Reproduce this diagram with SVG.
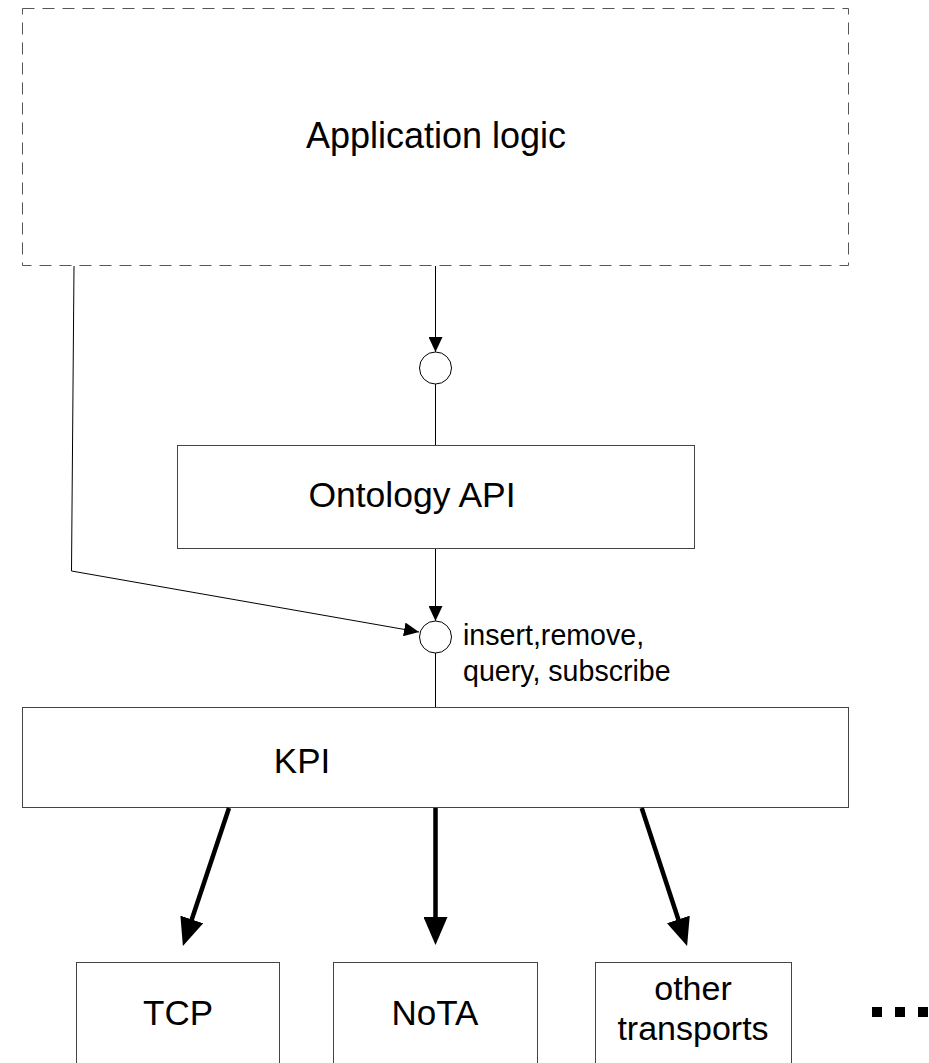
<svg xmlns="http://www.w3.org/2000/svg" width="929" height="1063" viewBox="0 0 929 1063">
  <style>
    .box { fill: #ffffff; stroke: #444444; stroke-width: 1; }
    .dash { fill: #ffffff; stroke: #555555; stroke-width: 1; stroke-dasharray: 12 8; }
    .lbl { font-family: "Liberation Sans", Arial, sans-serif; fill: #000000; }
    .thin { fill: none; stroke: #000000; stroke-width: 1; }
    .bold { fill: none; stroke: #000000; stroke-width: 4.5; }
    .port { fill: #ffffff; stroke: #000000; stroke-width: 1; }
  </style>
  <defs>
    <marker id="ah" markerUnits="userSpaceOnUse" markerWidth="15" markerHeight="14" viewBox="0 0 15 14" refX="15" refY="7" orient="auto">
      <path d="M0,0 L15,7 L0,14 z" fill="#000000"/>
    </marker>
    <marker id="ahb" markerUnits="userSpaceOnUse" markerWidth="28" markerHeight="24" viewBox="0 0 28 24" refX="4" refY="12" orient="auto">
      <path d="M0,0 L28,12 L0,24 z" fill="#000000"/>
    </marker>
  </defs>

  <g id="app-logic">
    <rect class="dash" x="22.5" y="8.5" width="826" height="257"/>
    <text class="lbl" x="436" y="148" font-size="36" text-anchor="middle">Application logic</text>
  </g>

  <g id="ontology-api">
    <rect class="box" x="177.5" y="445.5" width="517" height="103"/>
    <text class="lbl" x="412" y="507" font-size="35.5" text-anchor="middle">Ontology API</text>
  </g>

  <g id="kpi">
    <rect class="box" x="22.5" y="707.5" width="826" height="100"/>
    <text class="lbl" x="302" y="773" font-size="35" text-anchor="middle">KPI</text>
  </g>

  <g id="tcp">
    <rect class="box" x="76.5" y="962.5" width="203" height="120"/>
    <text class="lbl" x="178" y="1025" font-size="35" text-anchor="middle">TCP</text>
  </g>

  <g id="nota">
    <rect class="box" x="333.5" y="962.5" width="204" height="120"/>
    <text class="lbl" x="435" y="1025" font-size="35" text-anchor="middle">NoTA</text>
  </g>

  <g id="other-transports">
    <rect class="box" x="595.5" y="962.5" width="196" height="120"/>
    <text class="lbl" x="693" y="1000" font-size="34" text-anchor="middle">other</text>
    <text class="lbl" x="693" y="1040" font-size="34" text-anchor="middle">transports</text>
  </g>

  <g id="ellipsis">
    <rect x="872" y="1007" width="10" height="10" fill="#000000"/>
    <rect x="895" y="1007" width="10" height="10" fill="#000000"/>
    <rect x="918" y="1007" width="10" height="10" fill="#000000"/>
  </g>

  <g id="port-ontology">
    <circle class="port" cx="435.5" cy="368" r="16"/>
  </g>

  <g id="port-kpi">
    <circle class="port" cx="435.5" cy="637" r="16"/>
    <text class="lbl" x="463" y="645" font-size="28.6">insert,remove,</text>
    <text class="lbl" x="463" y="681" font-size="28.6">query, subscribe</text>
  </g>

  <g id="connectors">
    <line class="thin" x1="435.5" y1="266" x2="435.5" y2="352" marker-end="url(#ah)"/>
    <line class="thin" x1="435.5" y1="384" x2="435.5" y2="445"/>
    <line class="thin" x1="435.5" y1="549" x2="435.5" y2="621" marker-end="url(#ah)"/>
    <polyline class="thin" points="74,266 71.5,571 419,632" marker-end="url(#ah)"/>
    <line class="thin" x1="435.5" y1="653" x2="435.5" y2="707"/>
    <line class="bold" x1="229" y1="808" x2="190.5" y2="923.2" marker-end="url(#ahb)"/>
    <line class="bold" x1="435.5" y1="808" x2="435.5" y2="921" marker-end="url(#ahb)"/>
    <line class="bold" x1="641.7" y1="808" x2="679.6" y2="923.2" marker-end="url(#ahb)"/>
  </g>
</svg>
